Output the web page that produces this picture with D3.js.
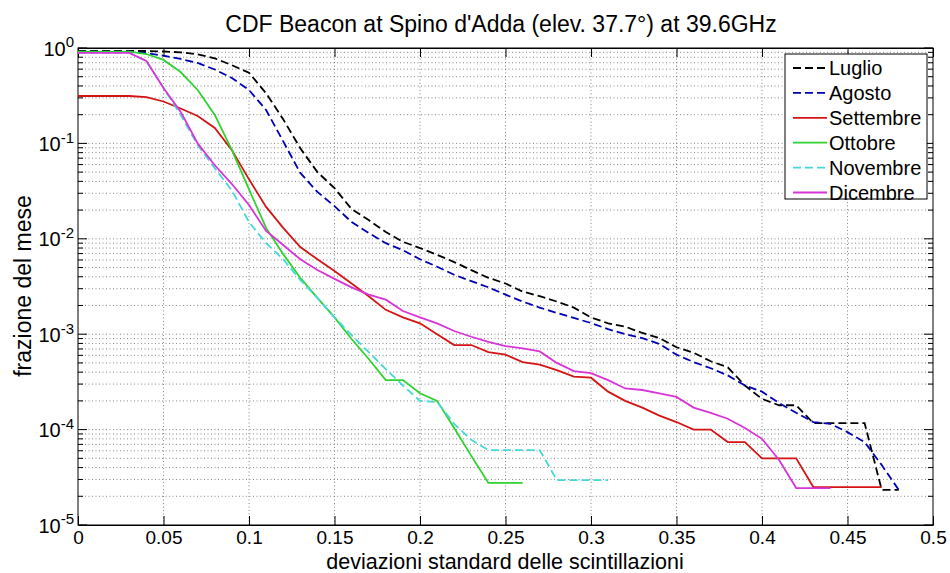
<!DOCTYPE html>
<html>
<head>
<meta charset="utf-8">
<script src="https://cdn.jsdelivr.net/npm/d3@7"></script>
<style>
  body { margin: 0; background: #fff; }
  text { font-family: "Liberation Sans", Arial, sans-serif; fill: #000; }
</style>
</head>
<body>
<div id="chart"></div>
<script>
// svg container
var svgWidth = 950;
var svgHeight = 573;

// margins
var margin = { top: 48, right: 17, bottom: 48, left: 78 };

var chartWidth = svgWidth - margin.left - margin.right;
var chartHeight = svgHeight - margin.top - margin.bottom;

// ---- data ----
var sigma = [0, 0.01, 0.02, 0.03, 0.04, 0.05, 0.06, 0.07, 0.08, 0.09,
             0.10, 0.11, 0.12, 0.13, 0.14, 0.15, 0.16, 0.17, 0.18, 0.19,
             0.20, 0.21, 0.22, 0.23, 0.24, 0.25, 0.26, 0.27, 0.28, 0.29,
             0.30, 0.31, 0.32, 0.33, 0.34, 0.35, 0.36, 0.37, 0.38, 0.39,
             0.40, 0.41, 0.42, 0.43, 0.44, 0.45, 0.46, 0.47, 0.48];

var luglio = [0.93, 0.93, 0.93, 0.93, 0.93, 0.92, 0.90, 0.86, 0.78, 0.66,
              0.55, 0.335, 0.179, 0.089, 0.050, 0.034, 0.0205, 0.0157, 0.0118, 0.0093,
              0.0080, 0.0068, 0.0057, 0.0047, 0.0039, 0.0034, 0.0028, 0.0025, 0.0022, 0.0019,
              0.0015, 0.0013, 0.0012, 0.00103, 0.00091, 0.00073, 0.00064, 0.00052, 0.00045, 0.00029,
              0.00021, 0.00018, 0.00018, 0.000117, 0.000117, 0.000117, 0.000117, 0.0000233, 0.0000233];

var agosto = [0.915, 0.915, 0.915, 0.915, 0.886, 0.83, 0.767, 0.697, 0.595, 0.485,
              0.363, 0.224, 0.105, 0.049, 0.031, 0.022, 0.015, 0.0115, 0.0090, 0.0076,
              0.0061, 0.0051, 0.0042, 0.0036, 0.0031, 0.0026, 0.0022, 0.0019, 0.00167, 0.00148,
              0.00131, 0.00113, 0.0010, 0.00091, 0.00079, 0.00061, 0.00051, 0.00044, 0.00037, 0.00029,
              0.00025, 0.00019, 0.00015, 0.00012, 0.000115, 0.000094, 0.000074, 0.0000425, 0.0000233];

var settembre = [0.314, 0.314, 0.314, 0.314, 0.306, 0.275, 0.232, 0.194, 0.145, 0.085,
                 0.042, 0.0216, 0.013, 0.0082, 0.0061, 0.0046, 0.0034, 0.0025, 0.0018, 0.0015,
                 0.0013, 0.0010, 0.00077, 0.00077, 0.00065, 0.00061, 0.00051, 0.00048, 0.00042, 0.00036,
                 0.00035, 0.00025, 0.00020, 0.00017, 0.00014, 0.00012, 0.00010, 0.00010, 0.000074, 0.000074,
                 0.00005, 0.00005, 0.00005, 0.000025, 0.000025, 0.000025, 0.000025, 0.000025];

var ottobre = [0.915, 0.915, 0.915, 0.915, 0.865, 0.75, 0.56, 0.363, 0.199, 0.085,
               0.033, 0.013, 0.0069, 0.0039, 0.0024, 0.0015, 0.00089, 0.00055, 0.00033, 0.00033,
               0.00024, 0.00020, 0.000104, 0.000053, 0.0000276, 0.0000276, 0.0000276];

var novembre = [0.89, 0.89, 0.89, 0.89, 0.73, 0.38, 0.20, 0.096, 0.055, 0.032,
                0.015, 0.009, 0.0061, 0.0037, 0.0024, 0.0015, 0.00098, 0.00065, 0.00043, 0.00029,
                0.00020, 0.000195, 0.000115, 0.000078, 0.000061, 0.000061, 0.000061, 0.000061, 0.0000296, 0.0000296,
                0.0000296, 0.0000296];

var dicembre = [0.89, 0.89, 0.89, 0.89, 0.73, 0.38, 0.215, 0.10, 0.059, 0.0375,
                0.0226, 0.0121, 0.0086, 0.0061, 0.0047, 0.0038, 0.0031, 0.0026, 0.0023, 0.00175,
                0.0015, 0.0013, 0.00108, 0.00094, 0.00083, 0.00075, 0.00071, 0.00066, 0.0005, 0.00041,
                0.00039, 0.00033, 0.00027, 0.00026, 0.00024, 0.00022, 0.00017, 0.00015, 0.00013, 0.000104,
                0.00008, 0.000048, 0.0000244, 0.0000244, 0.0000244];

var monthNames = ["Luglio", "Agosto", "Settembre", "Ottobre", "Novembre", "Dicembre"];
var monthValues = [luglio, agosto, settembre, ottobre, novembre, dicembre];
var monthColors = ["#000000", "#0000b4", "#d41414", "#2ed22e", "#44d8d8", "#d834d8"];
var monthDashed = [true, true, false, false, true, false];

var xTickValues = [0, 0.05, 0.1, 0.15, 0.2, 0.25, 0.3, 0.35, 0.4, 0.45, 0.5];
var xTickLabels = ["0", "0.05", "0.1", "0.15", "0.2", "0.25", "0.3", "0.35", "0.4", "0.45", "0.5"];
var yDecades = [1, 0.1, 0.01, 0.001, 0.0001, 0.00001];
var yExponents = ["0", "-1", "-2", "-3", "-4", "-5"];

// create svg container
var svg = d3.select("#chart").append("svg")
  .attr("width", svgWidth)
  .attr("height", svgHeight);

var chartGroup = svg.append("g")
  .attr("transform", `translate(${margin.left}, ${margin.top})`);

// scales
var xScale = d3.scaleLinear().domain([0, 0.5]).range([0, chartWidth]);
var yScale = d3.scaleLog().domain([1e-5, 1]).range([chartHeight, 0]);

// minor values for the log axis (2..9 x 10^k)
var yMinor = [];
yDecades.slice(1).forEach(function(d) {
  [2, 3, 4, 5, 6, 7, 8, 9].forEach(function(m) { yMinor.push(d * m); });
});

// grid (dotted)
var grid = chartGroup.append("g")
  .attr("stroke", "#555")
  .attr("stroke-width", 0.7)
  .attr("stroke-dasharray", "1,2.5");

grid.selectAll(".vgrid")
  .data(xTickValues.slice(1, -1))
  .enter().append("line")
  .attr("x1", d => xScale(d)).attr("x2", d => xScale(d))
  .attr("y1", 0).attr("y2", chartHeight);

grid.selectAll(".hgrid")
  .data(yMinor.concat(yDecades.slice(1, -1)))
  .enter().append("line")
  .attr("x1", 0).attr("x2", chartWidth)
  .attr("y1", d => yScale(d)).attr("y2", d => yScale(d));

// x axes (ticks pointing inside, MATLAB style)
var xAxis = d3.axisBottom(xScale)
  .tickValues(xTickValues)
  .tickSizeInner(-9)
  .tickSizeOuter(0)
  .tickPadding(6)
  .tickFormat((d, i) => xTickLabels[i]);

var xAxisG = chartGroup.append("g")
  .attr("transform", `translate(0, ${chartHeight})`)
  .call(xAxis);
xAxisG.selectAll("text").style("font-size", "19px").attr("fill", "#000");

chartGroup.append("g")
  .call(d3.axisTop(xScale).tickValues(xTickValues).tickSizeInner(-9).tickSizeOuter(0).tickFormat(""));

// y ticks on both sides
[0, chartWidth].forEach(function(x0) {
  var dir = x0 === 0 ? 1 : -1;
  chartGroup.append("g").selectAll("line")
    .data(yDecades)
    .enter().append("line")
    .attr("x1", x0).attr("x2", x0 + dir * 9)
    .attr("y1", d => yScale(d)).attr("y2", d => yScale(d))
    .attr("stroke", "#000");
  chartGroup.append("g").selectAll("line")
    .data(yMinor)
    .enter().append("line")
    .attr("x1", x0).attr("x2", x0 + dir * 5)
    .attr("y1", d => yScale(d)).attr("y2", d => yScale(d))
    .attr("stroke", "#000");
});

// y tick labels 10^k
var yLabels = chartGroup.append("g").selectAll("text")
  .data(yDecades)
  .enter().append("text")
  .attr("x", -4)
  .attr("y", d => yScale(d))
  .attr("dy", "0.38em")
  .attr("text-anchor", "end")
  .style("font-size", "20px");
yLabels.append("tspan").text("10");
yLabels.append("tspan")
  .attr("dy", "-0.55em")
  .style("font-size", "15px")
  .text((d, i) => yExponents[i]);

// axis box
chartGroup.append("rect")
  .attr("width", chartWidth)
  .attr("height", chartHeight)
  .attr("fill", "none")
  .attr("stroke", "#000")
  .attr("stroke-width", 1);

// curves
var line = d3.line()
  .x((d, i) => xScale(sigma[i]))
  .y(d => yScale(d));

monthValues.forEach(function(vals, k) {
  chartGroup.append("path")
    .datum(vals)
    .attr("d", line)
    .attr("fill", "none")
    .attr("stroke", monthColors[k])
    .attr("stroke-width", 1.8)
    .attr("stroke-dasharray", monthDashed[k] ? "8,4" : null);
});

// legend
var legend = svg.append("g").attr("transform", "translate(785, 54)");
legend.append("rect")
  .attr("width", 142).attr("height", 145)
  .attr("fill", "#fff").attr("stroke", "#000").attr("stroke-width", 1);

var legendItem = legend.selectAll(".item")
  .data(monthNames)
  .enter().append("g")
  .attr("transform", (d, i) => `translate(0, ${14 + i * 24.9})`);

legendItem.append("line")
  .attr("x1", 8).attr("x2", 42)
  .attr("stroke", (d, i) => monthColors[i])
  .attr("stroke-width", 1.8)
  .attr("stroke-dasharray", (d, i) => monthDashed[i] ? "8,4" : null);

legendItem.append("text")
  .attr("x", 44)
  .attr("dy", "0.36em")
  .style("font-size", "20px")
  .text(d => d);

// title and axis labels
svg.append("text")
  .attr("x", 501)
  .attr("y", 32)
  .attr("text-anchor", "middle")
  .style("font-size", "23px")
  .text("CDF Beacon at Spino d'Adda (elev. 37.7°) at 39.6GHz");

svg.append("text")
  .attr("x", 505)
  .attr("y", 568.5)
  .attr("text-anchor", "middle")
  .style("font-size", "21.5px")
  .text("deviazioni standard delle scintillazioni");

svg.append("text")
  .attr("transform", "translate(31, 286) rotate(-90)")
  .attr("text-anchor", "middle")
  .style("font-size", "23px")
  .text("frazione del mese");
</script>
</body>
</html>
